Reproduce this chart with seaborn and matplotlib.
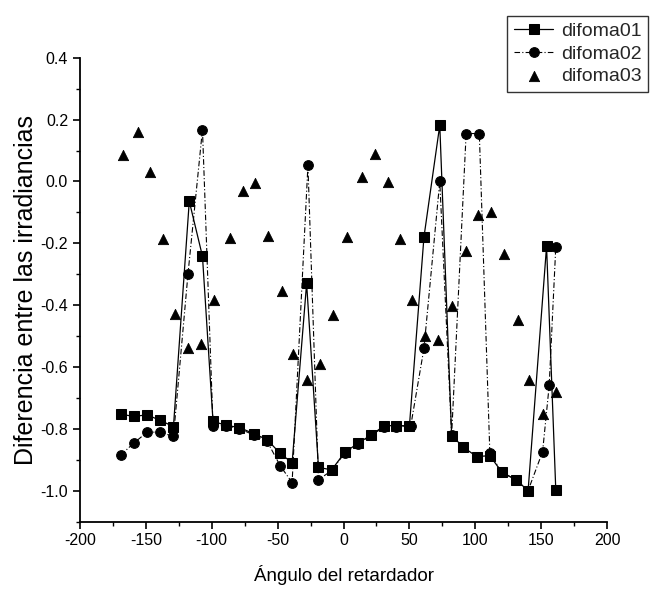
"""
Diferencia entre las irradiancias vs angulo del retardador (difoma01-03).
"""

import matplotlib
matplotlib.use("Agg")
import matplotlib.pyplot as plt
import pandas as pd
import seaborn as sns
from matplotlib.ticker import MultipleLocator

# Datos
x_01 = [-169, -159, -149, -139, -129, -117, -107, -99, -89, -79, -68, -58,
        -48, -39, -28, -19, -9, 1, 11, 21, 31, 40, 50, 61, 73, 82, 91, 101,
        111, 120, 131, 140, 154, 161]
y_01 = [-0.753, -0.760, -0.755, -0.773, -0.793, -0.064, -0.242, -0.776,
        -0.789, -0.796, -0.816, -0.835, -0.880, -0.910, -0.330, -0.925,
        -0.933, -0.876, -0.847, -0.820, -0.790, -0.790, -0.790, -0.180,
        0.182, -0.822, -0.860, -0.890, -0.887, -0.940, -0.966, -1.000,
        -0.210, -0.998]

x_02 = [-169, -159, -149, -139, -129, -118, -107, -99, -89, -79, -68, -58,
        -48, -39, -27, -19, -9, 1, 11, 21, 31, 40, 51, 61, 73, 82, 93, 103,
        111, 120, 131, 140, 151, 156, 161]
y_02 = [-0.885, -0.846, -0.811, -0.811, -0.825, -0.300, 0.168, -0.790,
        -0.790, -0.800, -0.820, -0.840, -0.920, -0.974, 0.052, -0.965,
        -0.935, -0.878, -0.850, -0.820, -0.795, -0.795, -0.790, -0.540,
        0.000, -0.820, 0.155, 0.155, -0.880, -0.940, -0.966, -1.000,
        -0.874, -0.660, -0.212]

x_03 = [-167, -156, -147, -137, -128, -118, -108, -98, -86, -76, -67, -57,
        -47, -38, -28, -18, -8, 3, 14, 24, 34, 43, 52, 62, 72, 82, 93, 102,
        112, 122, 132, 141, 151, 161]
y_03 = [0.085, 0.160, 0.030, -0.187, -0.430, -0.540, -0.527, -0.385,
        -0.183, -0.032, -0.004, -0.176, -0.353, -0.558, -0.643, -0.589,
        -0.431, -0.179, 0.016, 0.090, -0.002, -0.187, -0.384, -0.500,
        -0.512, -0.404, -0.225, -0.110, -0.100, -0.235, -0.447, -0.643,
        -0.751, -0.680]

sns.set_style("ticks")
plt.rcParams["font.family"] = ["Liberation Sans", "DejaVu Sans"]
plt.rcParams["axes.unicode_minus"] = False

df1 = pd.DataFrame({"angulo": x_01, "dif": y_01})
df2 = pd.DataFrame({"angulo": x_02, "dif": y_02})
df3 = pd.DataFrame({"angulo": x_03, "dif": y_03})

fig = plt.figure(figsize=(6.6, 5.96), dpi=100)
ax = fig.add_axes([0.121, 0.125, 0.799, 0.778])

sns.lineplot(data=df1, x="angulo", y="dif", sort=False, estimator=None,
             color="black", linewidth=0.9, marker="s", markersize=6.5,
             markeredgecolor="black", label="difoma01", ax=ax)
sns.lineplot(data=df2, x="angulo", y="dif", sort=False, estimator=None,
             color="black", linewidth=0.8, marker="o", markersize=7,
             markeredgecolor="black", dashes=False, label="difoma02", ax=ax)
ax.lines[-1].set_linestyle((0, (5, 2, 1, 2)))
sns.scatterplot(data=df3, x="angulo", y="dif", color="black", marker="^",
                s=55, edgecolor="black", label="difoma03", ax=ax)

ax.set_xlim(-200, 200)
ax.set_ylim(-1.1, 0.4)
ax.xaxis.set_major_locator(MultipleLocator(50))
ax.xaxis.set_minor_locator(MultipleLocator(25))
ax.yaxis.set_minor_locator(MultipleLocator(0.1))
ax.set_yticks([-1.0, -0.8, -0.6, -0.4, -0.2, 0.0, 0.2, 0.4])
ax.set_yticklabels(["-1.0", "-0.8", "-0.6", "-0.4", "-0.2", "0.0", "0.2", "0.4"])
ax.tick_params(which="major", direction="out", length=5, width=1.2,
               labelsize=11.5, color="black", labelcolor="black")
ax.tick_params(which="minor", direction="out", length=3, width=1.0,
               color="black")
sns.despine(ax=ax)
for s in ["left", "bottom"]:
    ax.spines[s].set_linewidth(1.3)
    ax.spines[s].set_color("black")

ax.set_xlabel("Ángulo del retardador", fontsize=13.5, labelpad=12,
              color="black")
ax.set_ylabel("Diferencia entre las irradiancias", fontsize=18, labelpad=2,
              color="black")

ax.get_legend().remove()
h, l = ax.get_legend_handles_labels()
leg = fig.legend(h, l, loc="upper right", bbox_to_anchor=(0.997, 0.99),
                 frameon=True, fancybox=False, edgecolor="black",
                 fontsize=14, handlelength=2.0, borderpad=0.35,
                 labelspacing=0.25, handletextpad=0.4)
leg.get_frame().set_linewidth(1.0)

fig.savefig("out.png", dpi=100)
